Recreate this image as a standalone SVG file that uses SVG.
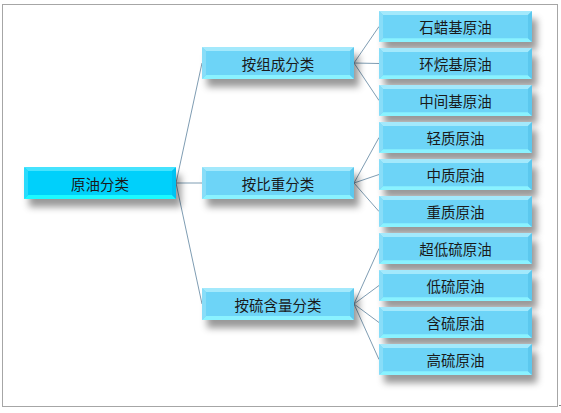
<svg xmlns="http://www.w3.org/2000/svg" width="561" height="413" viewBox="0 0 561 413">
<style>
.lbl{font-family:"Noto Sans CJK SC","Liberation Sans",sans-serif;font-size:14.5px;fill:#1a1a1a;text-anchor:middle;dominant-baseline:central}
.conn{stroke:#7f9db3;stroke-width:1;fill:none}
.frame{fill:#fff;stroke:#a6a6a6;stroke-width:1}
</style>
<defs>
<filter id="sh" x="-10%" y="-40%" width="130%" height="200%">
<feDropShadow dx="5" dy="8" stdDeviation="3.5" flood-color="#000" flood-opacity="0.4"/>
</filter>
<symbol id="nb" viewBox="0 0 152 32" preserveAspectRatio="none">
<rect x="0" y="0" width="152" height="32" rx="1.5" fill="#6dd4f7"/>
<polygon points="0,0 152,0 148,4 4,4" fill="#a3e9fc"/>
<polygon points="0,32 152,32 148,28 4,28" fill="#8af2ff"/>
<polygon points="0,0 4,4 4,28 0,32" fill="#88ddf8"/>
<polygon points="152,0 148,4 148,28 152,32" fill="#5cc8ee"/>
</symbol>
<symbol id="nc" viewBox="0 0 152 32" preserveAspectRatio="none">
<rect x="0" y="0" width="152" height="32" rx="1.5" fill="#05d0fb"/>
<polygon points="0,0 152,0 148,4 4,4" fill="#45e3fe"/>
<polygon points="0,32 152,32 148,28 4,28" fill="#1ff9ff"/>
<polygon points="0,0 4,4 4,28 0,32" fill="#2adbfc"/>
<polygon points="152,0 148,4 148,28 152,32" fill="#00c2f2"/>
</symbol>
</defs>
<rect class="frame" x="2.5" y="4.5" width="555" height="402"/>
<line x1="559" y1="405.5" x2="561" y2="405.5" stroke="#888" stroke-width="1"/>
<g id="connectors">
<path class="conn" d="M176,183 L202,63 M176,183 L202,183 M176,183 L202,304"/>
<path class="conn" d="M354,63 L379,26.5 M354,63 L379,63.5 M354,63 L379,100.5"/>
<path class="conn" d="M354,183 L379,137.5 M354,183 L379,174.5 M354,183 L379,211.5"/>
<path class="conn" d="M354,304 L379,248.5 M354,304 L379,285.5 M354,304 L379,322.5 M354,304 L379,359.5"/>
</g>
<g id="root"><use href="#nc" x="24" y="167" width="152" height="32" filter="url(#sh)"/><text class="lbl" x="100" y="183">原油分类</text></g>
<g id="n-zucheng"><use href="#nb" x="202" y="47" width="152" height="32" filter="url(#sh)"/><text class="lbl" x="278" y="63">按组成分类</text></g>
<g id="n-bizhong"><use href="#nb" x="202" y="167" width="152" height="32" filter="url(#sh)"/><text class="lbl" x="278" y="183">按比重分类</text></g>
<g id="n-liuhan"><use href="#nb" x="202" y="288" width="152" height="32" filter="url(#sh)"/><text class="lbl" x="278" y="304">按硫含量分类</text></g>
<g id="l0"><use href="#nb" x="379" y="11" width="153" height="31" filter="url(#sh)"/><text class="lbl" x="455.5" y="26.5">石蜡基原油</text></g>
<g id="l1"><use href="#nb" x="379" y="48" width="153" height="31" filter="url(#sh)"/><text class="lbl" x="455.5" y="63.5">环烷基原油</text></g>
<g id="l2"><use href="#nb" x="379" y="85" width="153" height="31" filter="url(#sh)"/><text class="lbl" x="455.5" y="100.5">中间基原油</text></g>
<g id="l3"><use href="#nb" x="379" y="122" width="153" height="31" filter="url(#sh)"/><text class="lbl" x="455.5" y="137.5">轻质原油</text></g>
<g id="l4"><use href="#nb" x="379" y="159" width="153" height="31" filter="url(#sh)"/><text class="lbl" x="455.5" y="174.5">中质原油</text></g>
<g id="l5"><use href="#nb" x="379" y="196" width="153" height="31" filter="url(#sh)"/><text class="lbl" x="455.5" y="211.5">重质原油</text></g>
<g id="l6"><use href="#nb" x="379" y="233" width="153" height="31" filter="url(#sh)"/><text class="lbl" x="455.5" y="248.5">超低硫原油</text></g>
<g id="l7"><use href="#nb" x="379" y="270" width="153" height="31" filter="url(#sh)"/><text class="lbl" x="455.5" y="285.5">低硫原油</text></g>
<g id="l8"><use href="#nb" x="379" y="307" width="153" height="31" filter="url(#sh)"/><text class="lbl" x="455.5" y="322.5">含硫原油</text></g>
<g id="l9"><use href="#nb" x="379" y="344" width="153" height="31" filter="url(#sh)"/><text class="lbl" x="455.5" y="359.5">高硫原油</text></g>
</svg>
